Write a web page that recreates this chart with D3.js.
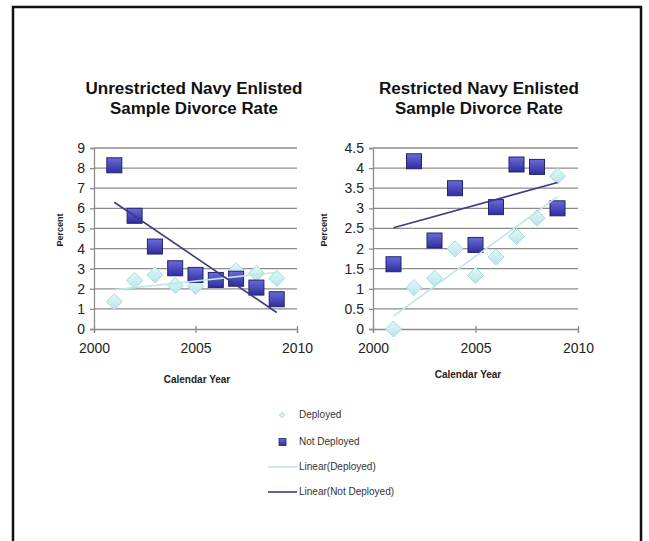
<!DOCTYPE html>
<html>
<head>
<meta charset="utf-8">
<script src="https://cdn.jsdelivr.net/npm/d3@7"></script>
<style>
  html, body { margin: 0; padding: 0; background: #fff; }
  svg { display: block; font-family: "Liberation Sans", Arial, sans-serif; }
</style>
</head>
<body>
<svg id="chart" width="649" height="541"></svg>
<script>
// Calendar years shared by both panels
const years = [2001, 2002, 2003, 2004, 2005, 2006, 2007, 2008, 2009];

// Unrestricted enlisted divorce rate (percent)
const unrestrictedDeployed    = [1.36, 2.41, 2.69, 2.16, 2.12, 2.50, 2.90, 2.77, 2.52];
const unrestrictedNotDeployed = [8.14, 5.63, 4.10, 3.02, 2.69, 2.44, 2.50, 2.06, 1.48];

// Restricted enlisted divorce rate (percent)
const restrictedDeployed    = [0.00, 1.03, 1.26, 1.99, 1.33, 1.79, 2.30, 2.76, 3.80];
const restrictedNotDeployed = [1.61, 4.17, 2.20, 3.50, 2.09, 3.03, 4.09, 4.03, 3.00];

// Axis ticks
const xTicks = [2000, 2005, 2010];
const yTicksLeft  = [0, 1, 2, 3, 4, 5, 6, 7, 8, 9];
const yTicksRight = [0, 0.5, 1, 1.5, 2, 2.5, 3, 3.5, 4, 4.5];

const legendLabels = ["Deployed", "Not Deployed", "Linear(Deployed)", "Linear(Not Deployed)"];

const svg = d3.select("#chart");

const defs = svg.append("defs");
const sq = defs.append("linearGradient").attr("id", "sqFill")
  .attr("x1", 0).attr("y1", 0).attr("x2", 0).attr("y2", 1);
sq.append("stop").attr("offset", "0%").attr("stop-color", "#6a6ad8");
sq.append("stop").attr("offset", "100%").attr("stop-color", "#2e2ea0");
const dm = defs.append("linearGradient").attr("id", "dmFill")
  .attr("x1", 0).attr("y1", 0).attr("x2", 0).attr("y2", 1);
dm.append("stop").attr("offset", "0%").attr("stop-color", "#e2f7f7");
dm.append("stop").attr("offset", "100%").attr("stop-color", "#b8e6e6");

// Outer frame (open at the bottom)
svg.append("path")
  .attr("d", "M13,541 L13,7 L641,7 L641,541")
  .attr("fill", "none").attr("stroke", "#111").attr("stroke-width", 2.5);

// Least-squares fit used for the linear trendlines
function linearFit(xs, ys) {
  const n = xs.length;
  const mx = d3.mean(xs), my = d3.mean(ys);
  let sxy = 0, sxx = 0;
  for (let i = 0; i < n; i++) {
    sxy += (xs[i] - mx) * (ys[i] - my);
    sxx += (xs[i] - mx) * (xs[i] - mx);
  }
  const b = sxy / sxx;
  return x => my + b * (x - mx);
}

function panel(opts) {
  const x = d3.scaleLinear().domain([2000, 2010]).range([opts.x0, opts.x1]);
  const y = d3.scaleLinear().domain([0, opts.yMax]).range([329, 148]);
  const g = svg.append("g");

  // Horizontal gridlines
  g.selectAll("line.grid").data(opts.yTicks.filter(d => d > 0)).enter()
    .append("line")
    .attr("x1", opts.x0).attr("x2", opts.x1)
    .attr("y1", d => y(d)).attr("y2", d => y(d))
    .attr("stroke", "#8c8c8c").attr("stroke-width", 1.3);

  // Y axis
  const yAxis = d3.axisLeft(y).tickValues(opts.yTicks).tickSize(4).tickPadding(5)
    .tickFormat(d => String(d));
  const ya = g.append("g").attr("transform", `translate(${opts.x0},0)`).call(yAxis);
  ya.select(".domain").attr("stroke", "#8c8c8c").attr("stroke-width", 1.3);
  ya.selectAll(".tick line").attr("stroke", "#8c8c8c").attr("stroke-width", 1.3);
  ya.selectAll(".tick text").attr("font-size", 14).attr("fill", "#222")
    .attr("font-family", "Liberation Sans, Arial, sans-serif");

  // X axis
  const xAxis = d3.axisBottom(x).tickValues(xTicks).tickSize(4).tickPadding(10)
    .tickFormat(d3.format("d"));
  const xa = g.append("g").attr("transform", "translate(0,329)").call(xAxis);
  xa.select(".domain").attr("stroke", "#8c8c8c").attr("stroke-width", 1.3);
  xa.selectAll(".tick line").attr("stroke", "#8c8c8c").attr("stroke-width", 1.3)
    .attr("y1", -3);
  xa.selectAll(".tick text").attr("font-size", 14).attr("fill", "#222")
    .attr("font-family", "Liberation Sans, Arial, sans-serif");

  // Deployed markers (diamonds)
  const r = 8;
  g.selectAll("path.dep").data(opts.dep).enter().append("path")
    .attr("d", (d, i) => {
      const cx = x(years[i]), cy = y(d);
      return `M${cx},${cy - r}L${cx + r},${cy}L${cx},${cy + r}L${cx - r},${cy}Z`;
    })
    .attr("fill", "url(#dmFill)").attr("stroke", "#a6dcdc").attr("stroke-width", 1);

  // Not deployed markers (squares)
  const s = 15;
  g.selectAll("rect.nd").data(opts.nd).enter().append("rect")
    .attr("x", (d, i) => x(years[i]) - s / 2)
    .attr("y", d => y(d) - s / 2)
    .attr("width", s).attr("height", s)
    .attr("fill", "url(#sqFill)").attr("stroke", "#23236e").attr("stroke-width", 1);

  // Linear trendlines
  const fd = linearFit(years, opts.dep);
  const fn = linearFit(years, opts.nd);
  const ends = [years[0], years[years.length - 1]];
  const line = f => d3.line().x(d => x(d)).y(d => y(f(d)))(ends);
  g.append("path").attr("d", line(fd)).attr("fill", "none")
    .attr("stroke", "#bde6e6").attr("stroke-width", 1.6);
  g.append("path").attr("d", line(fn)).attr("fill", "none")
    .attr("stroke", "#3a3a86").attr("stroke-width", 1.6);

  // Titles
  const cx = opts.titleX;
  opts.title.forEach((t, i) => {
    svg.append("text").attr("x", cx).attr("y", 94 + i * 20)
      .attr("text-anchor", "middle").attr("font-size", 16).attr("font-weight", "bold")
      .attr("fill", "#111")
      .attr("textLength", opts.titleW[i]).attr("lengthAdjust", "spacingAndGlyphs")
      .text(t);
  });

  // Axis titles
  svg.append("text")
    .attr("transform", `translate(${opts.pctX},230) rotate(-90)`)
    .attr("text-anchor", "middle").attr("dominant-baseline", "middle")
    .attr("font-size", 9).attr("font-weight", "bold").attr("fill", "#222")
    .text("Percent");
  svg.append("text")
    .attr("x", opts.calX).attr("y", opts.calY)
    .attr("text-anchor", "middle").attr("dominant-baseline", "middle")
    .attr("font-size", 10).attr("font-weight", "bold").attr("fill", "#222")
    .text("Calendar Year");
}

panel({
  x0: 94, x1: 297, yMax: 9, yTicks: yTicksLeft,
  dep: unrestrictedDeployed, nd: unrestrictedNotDeployed,
  title: ["Unrestricted Navy Enlisted", "Sample Divorce Rate"],
  titleX: 194, titleW: [217, 168],
  pctX: 61, calX: 197, calY: 380
});

panel({
  x0: 373, x1: 578, yMax: 4.5, yTicks: yTicksRight,
  dep: restrictedDeployed, nd: restrictedNotDeployed,
  title: ["Restricted Navy Enlisted", "Sample Divorce Rate"],
  titleX: 479, titleW: [200, 168],
  pctX: 325, calX: 468, calY: 375
});

// Legend
const lg = svg.append("g");
const ly = [415, 442, 467, 492];
lg.selectAll("text").data(legendLabels).enter().append("text")
  .attr("x", 299).attr("y", (d, i) => ly[i])
  .attr("dominant-baseline", "middle").attr("font-size", 10).attr("fill", "#333")
  .text(d => d);
// Deployed key
lg.append("path")
  .attr("d", `M282,${ly[0] - 3}L285,${ly[0]}L282,${ly[0] + 3}L279,${ly[0]}Z`)
  .attr("fill", "#cfeeee").attr("stroke", "#b2dede").attr("stroke-width", 0.8);
// Not deployed key
lg.append("rect").attr("x", 279).attr("y", ly[1] - 3.5).attr("width", 7).attr("height", 7)
  .attr("fill", "url(#sqFill)").attr("stroke", "#23236e").attr("stroke-width", 0.8);
// Trendline keys
lg.append("line").attr("x1", 268).attr("x2", 297).attr("y1", ly[2]).attr("y2", ly[2])
  .attr("stroke", "#bde6e6").attr("stroke-width", 1.6);
lg.append("line").attr("x1", 268).attr("x2", 297).attr("y1", ly[3]).attr("y2", ly[3])
  .attr("stroke", "#3a3a86").attr("stroke-width", 1.6);
</script>
</body>
</html>
